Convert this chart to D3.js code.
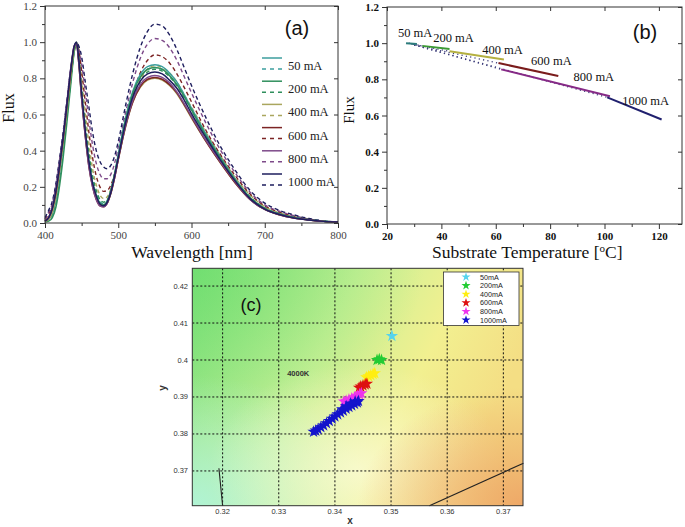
<!DOCTYPE html>
<html><head><meta charset="utf-8">
<script src="https://cdn.jsdelivr.net/npm/d3@7"></script>
<style>body{margin:0;background:#fff}svg{display:block}</style>
</head><body>
<svg id="chart" width="685" height="527"></svg>
<script>
// ---------- DATA ----------
const currents = ["50 mA","200 mA","400 mA","600 mA","800 mA","1000 mA"];
const currentsShort = ["50mA","200mA","400mA","600mA","800mA","1000mA"];
const specColors = ["#3c9e9e","#2f8f5c","#aaa65e","#7c2424","#7e4a8a","#1e1e5e"];

// (a) spectra
const wavelengths = [400,405,410,415,420,425,430,435,440,443,446,450,455,460,465,470,475,480,
  485,490,495,500,510,520,530,540,550,560,570,580,590,600,620,640,660,680,700,720,740,760,780,800];
const solid50 = [0.01,0.02,0.05,0.13,0.27,0.43,0.61,0.79,0.97,1.0,0.90,0.70,0.50,0.33,0.22,0.15,0.11,0.10,
  0.12,0.18,0.27,0.38,0.58,0.73,0.82,0.865,0.875,0.865,0.83,0.78,0.71,0.635,0.49,0.36,0.24,0.14,0.08,0.05,0.03,0.018,0.01,0.005];
const solid200 = [0.005,0.01,0.03,0.09,0.21,0.37,0.56,0.76,0.95,1.0,0.91,0.71,0.50,0.33,0.22,0.15,0.11,0.10,
  0.12,0.18,0.27,0.37,0.57,0.72,0.805,0.85,0.86,0.85,0.815,0.765,0.70,0.625,0.48,0.355,0.235,0.14,0.08,0.05,0.03,0.018,0.01,0.005];
const solid400 = [0.01,0.02,0.06,0.15,0.29,0.45,0.63,0.81,0.97,1.0,0.90,0.70,0.49,0.32,0.21,0.14,0.10,0.095,
  0.11,0.165,0.25,0.35,0.53,0.67,0.75,0.79,0.80,0.79,0.76,0.715,0.65,0.58,0.45,0.33,0.22,0.13,0.075,0.045,0.027,0.017,0.009,0.005];
const solid600 = [0.01,0.03,0.08,0.17,0.31,0.47,0.65,0.83,0.98,0.99,0.89,0.69,0.48,0.31,0.20,0.13,0.095,0.09,
  0.11,0.165,0.25,0.35,0.535,0.67,0.755,0.795,0.805,0.795,0.765,0.72,0.655,0.585,0.45,0.33,0.22,0.13,0.075,0.045,0.027,0.017,0.009,0.005];
const solid800 = [0.01,0.03,0.09,0.19,0.33,0.49,0.67,0.85,0.98,0.99,0.89,0.69,0.48,0.31,0.20,0.13,0.095,0.09,
  0.11,0.17,0.25,0.355,0.54,0.68,0.765,0.805,0.815,0.805,0.775,0.725,0.66,0.59,0.455,0.335,0.225,0.13,0.075,0.046,0.028,0.017,0.009,0.005];
const solid1000 = [0.01,0.03,0.08,0.18,0.32,0.48,0.66,0.84,0.98,1.0,0.91,0.72,0.51,0.34,0.22,0.15,0.105,0.095,
  0.115,0.17,0.26,0.36,0.555,0.70,0.785,0.825,0.835,0.825,0.79,0.745,0.68,0.605,0.47,0.345,0.23,0.135,0.077,0.047,0.028,0.017,0.009,0.005];
const dashed50 = [0.01,0.02,0.05,0.13,0.27,0.43,0.61,0.79,0.96,0.99,0.92,0.73,0.53,0.36,0.24,0.165,0.12,0.105,
  0.125,0.18,0.27,0.37,0.57,0.71,0.80,0.85,0.86,0.85,0.815,0.765,0.70,0.625,0.485,0.36,0.24,0.14,0.08,0.05,0.03,0.018,0.01,0.005];
const dashed200 = [0.01,0.02,0.05,0.12,0.25,0.41,0.59,0.78,0.95,0.99,0.93,0.76,0.56,0.39,0.26,0.18,0.13,0.115,
  0.13,0.18,0.26,0.36,0.55,0.69,0.78,0.835,0.85,0.84,0.81,0.76,0.695,0.625,0.485,0.36,0.24,0.145,0.085,0.052,0.032,0.019,0.01,0.005];
const dashed400 = [0.01,0.03,0.08,0.17,0.30,0.46,0.63,0.81,0.96,0.99,0.95,0.80,0.61,0.44,0.30,0.21,0.155,0.135,
  0.145,0.19,0.26,0.35,0.54,0.69,0.79,0.85,0.87,0.86,0.83,0.78,0.71,0.64,0.50,0.37,0.25,0.155,0.09,0.057,0.035,0.02,0.01,0.005];
const dashed600 = [0.02,0.05,0.10,0.19,0.33,0.48,0.65,0.83,0.96,0.99,0.96,0.84,0.67,0.50,0.36,0.26,0.20,0.175,
  0.18,0.21,0.27,0.36,0.55,0.71,0.83,0.90,0.93,0.92,0.885,0.825,0.75,0.67,0.51,0.375,0.26,0.16,0.095,0.06,0.038,0.021,0.01,0.005];
const dashed800 = [0.02,0.06,0.11,0.21,0.35,0.50,0.67,0.84,0.97,1.0,0.97,0.88,0.73,0.57,0.43,0.33,0.27,0.245,
  0.245,0.27,0.33,0.42,0.61,0.78,0.91,0.99,1.02,1.01,0.97,0.90,0.81,0.72,0.55,0.40,0.275,0.17,0.10,0.065,0.04,0.022,0.011,0.005];
const dashed1000 = [0.03,0.07,0.12,0.22,0.36,0.51,0.68,0.85,0.97,1.0,0.98,0.92,0.78,0.64,0.50,0.40,0.34,0.31,
  0.30,0.32,0.37,0.45,0.65,0.83,0.97,1.06,1.10,1.09,1.04,0.96,0.86,0.76,0.58,0.42,0.29,0.18,0.11,0.07,0.045,0.025,0.012,0.006];
const solidSeries = [solid50,solid200,solid400,solid600,solid800,solid1000];
const dashedSeries = [dashed50,dashed200,dashed400,dashed600,dashed800,dashed1000];
const aXTicks = [400,500,600,700,800];
const fluxTicks = [0.0,0.2,0.4,0.6,0.8,1.0,1.2];

// (b) flux vs substrate temperature
const bColors = ["#2c7c7c","#3c9a34","#b4b040","#7a1c1c","#862a86","#20206e"];
const steadyT = [[27,31],[33,43],[43,63],[61,83],[62,102],[101,121]];
const steadyFlux = [[1.0,0.995],[0.985,0.968],[0.955,0.91],[0.89,0.818],[0.855,0.706],[0.70,0.578]];
const transT = [[],[28,33],[29,43],[30,61],[30,62],[30,101]];
const transFlux = [[],[1.0,0.985],[0.995,0.955],[0.99,0.89],[0.99,0.855],[0.99,0.70]];
const bLabelT = [24,37,55,73,88.6,106.5];
const bLabelFlux = [1.058,1.03,0.963,0.903,0.814,0.681];
const bXTicks = [20,40,60,80,100,120];

// (c) chromaticity
const cColors = ["#55d4ee","#22cc33","#ffee11","#dd1111","#ee33ee","#1414cc"];
const pts50 = [[0.35015,0.4065]];
const pts200 = [[0.3475,0.4000],[0.3479,0.4002],[0.3483,0.4000]];
const pts400 = [[0.3456,0.3953],[0.3460,0.3956],[0.3464,0.3959],[0.3468,0.3962],[0.3471,0.3964]];
const pts600 = [[0.3443,0.3925],[0.3446,0.3928],[0.3450,0.3931],[0.3454,0.3934],[0.3457,0.3936]];
const pts800 = [[0.3416,0.3888],[0.3420,0.3890],[0.3425,0.3893],[0.3430,0.3896],[0.3435,0.3899],[0.3440,0.3903],[0.3444,0.3907],[0.3447,0.3910]];
const pts1000 = [[0.3362,0.3806],[0.3366,0.3809],[0.3370,0.3813],[0.3375,0.3818],[0.3380,0.3823],[0.3385,0.3829],
  [0.3390,0.3835],[0.3395,0.3841],[0.3400,0.3847],[0.3405,0.3853],[0.3410,0.3858],[0.3415,0.3863],[0.3420,0.3868],
  [0.3425,0.3873],[0.3430,0.3877],[0.3435,0.3881],[0.3440,0.3885],[0.3413,0.3867],[0.3420,0.3875],[0.3428,0.3882],[0.3436,0.3888],[0.3442,0.3889]];
const cPoints = [pts50,pts200,pts400,pts600,pts800,pts1000];
const isoLine1 = [[0.31934,0.37073],[0.3200,0.3606]];
const isoLine2 = [[0.35683,0.3606],[0.37358,0.37208]];
const cXTicks = [0.32,0.33,0.34,0.35,0.36,0.37];
const cYTicks = [0.37,0.38,0.39,0.40,0.41,0.42];
const cctLabel = {x:0.3315, y:0.3958, text:"4000K"};

// ---------- DRAW ----------
const svg = d3.select("#chart");
const SERIF = "'Liberation Serif','Times New Roman',serif";
const SANS = "'Liberation Sans',Arial,sans-serif";

function frame(x, y, xMajor, xMinor, yMajor, yMinor, fmtX, fmtY, labStyle){
  const g = svg.append("g");
  const [x0,x1] = x.range(), [yb,yt] = y.range();
  const strip = s => s.select(".domain").remove();
  g.append("g").attr("transform",`translate(0,${yb})`)
    .call(d3.axisBottom(x).tickValues(xMinor).tickSize(3).tickFormat("")).call(strip);
  const bx = g.append("g").attr("transform",`translate(0,${yb})`)
    .call(d3.axisBottom(x).tickValues(xMajor).tickSize(5).tickPadding(3).tickFormat(fmtX)).call(strip);
  g.append("g").attr("transform",`translate(${x0},0)`)
    .call(d3.axisLeft(y).tickValues(yMinor).tickSize(3).tickFormat("")).call(strip);
  const ly = g.append("g").attr("transform",`translate(${x0},0)`)
    .call(d3.axisLeft(y).tickValues(yMajor).tickSize(5).tickPadding(3).tickFormat(fmtY)).call(strip);
  g.append("g").attr("transform",`translate(0,${yt})`)
    .call(d3.axisTop(x).tickValues(xMajor).tickSize(-4).tickFormat("")).call(strip);
  g.append("g").attr("transform",`translate(${x1},0)`)
    .call(d3.axisRight(y).tickValues(yMajor).tickSize(-4).tickFormat("")).call(strip);
  g.selectAll(".tick line").attr("stroke","#333");
  [bx,ly].forEach(a=>a.selectAll("text").attr("font-family",SERIF).attr("font-size",labStyle.size)
     .attr("font-weight",labStyle.weight).attr("fill",labStyle.fill));
  g.append("rect").attr("x",x0).attr("y",yt).attr("width",x1-x0).attr("height",yb-yt)
    .attr("fill","none").attr("stroke","#333").attr("stroke-width",1);
  return g;
}

// ===== Panel (a) =====
const xA = d3.scaleLinear([400,800],[45,338]);
const yA = d3.scaleLinear([0,1.2],[223,6]);
const lineA = d3.line().x((d,i)=>xA(wavelengths[i])).y(d=>yA(d)).curve(d3.curveMonotoneX);
const gA = svg.append("g");
dashedSeries.forEach((s,i)=>{
  gA.append("path").attr("d",lineA(s)).attr("fill","none").attr("stroke",specColors[i])
    .attr("stroke-width",1.4).attr("stroke-dasharray","4,3");
});
solidSeries.forEach((s,i)=>{
  gA.append("path").attr("d",lineA(s)).attr("fill","none").attr("stroke",specColors[i])
    .attr("stroke-width",1.5);
});
frame(xA,yA,aXTicks,d3.range(450,800,100),fluxTicks,d3.range(0.1,1.2,0.2),d=>d,d3.format(".1f"),
  {size:11,weight:"normal",fill:"#444"});
// legend (a)
currents.forEach((c,i)=>{
  const ys = 58 + i*23.2;
  gA.append("line").attr("x1",262).attr("x2",282).attr("y1",ys).attr("y2",ys)
    .attr("stroke",specColors[i]).attr("stroke-width",1.5);
  gA.append("line").attr("x1",262).attr("x2",282).attr("y1",ys+11).attr("y2",ys+11)
    .attr("stroke",specColors[i]).attr("stroke-width",1.5).attr("stroke-dasharray","4,4");
  gA.append("text").attr("x",288).attr("y",ys+12).text(c)
    .attr("font-family",SERIF).attr("font-size",12.5).attr("fill","#222");
});
svg.append("text").attr("x",297).attr("y",35).attr("text-anchor","middle").text("(a)")
  .attr("font-family",SANS).attr("font-size",20).attr("fill","#111");
svg.append("text").attr("x",192).attr("y",258).attr("text-anchor","middle").text("Wavelength [nm]")
  .attr("font-family",SERIF).attr("font-size",17.5).attr("fill","#111");
svg.append("text").attr("transform","translate(14,108) rotate(-90)").attr("text-anchor","middle").text("Flux")
  .attr("font-family",SERIF).attr("font-size",16).attr("fill","#111");

// ===== Panel (b) =====
const xB = d3.scaleLinear([20,128.5],[387,682]);
const yB = d3.scaleLinear([0,1.2],[224,7]);
const gB = svg.append("g");
const lineB = d3.line().x(d=>xB(d[0])).y(d=>yB(d[1]));
transT.forEach((t,i)=>{
  if(!t.length) return;
  gB.append("path").attr("d",lineB(t.map((v,j)=>[v,transFlux[i][j]]))).attr("fill","none")
    .attr("stroke","#3a3a78").attr("stroke-width",1.3).attr("stroke-dasharray","1.2,3.2");
});
steadyT.forEach((t,i)=>{
  gB.append("path").attr("d",lineB(t.map((v,j)=>[v,steadyFlux[i][j]]))).attr("fill","none")
    .attr("stroke",bColors[i]).attr("stroke-width",2);
});
currents.forEach((c,i)=>{
  gB.append("text").attr("x",xB(bLabelT[i])).attr("y",yB(bLabelFlux[i])+4).text(c)
    .attr("font-family",SERIF).attr("font-size",12.5).attr("fill","#111");
});
frame(xB,yB,bXTicks,d3.range(30,129,20),fluxTicks,d3.range(0.1,1.2,0.2),d=>d,d3.format(".1f"),
  {size:11,weight:"bold",fill:"#111"});
svg.append("text").attr("x",645).attr("y",39).attr("text-anchor","middle").text("(b)")
  .attr("font-family",SANS).attr("font-size",20).attr("fill","#111");
svg.append("text").attr("transform","translate(354,110) rotate(-90)").attr("text-anchor","middle").text("Flux")
  .attr("font-family",SERIF).attr("font-size",15).attr("fill","#111");
const tt = svg.append("text").attr("x",432).attr("y",258).attr("font-family",SERIF).attr("font-size",17.5).attr("fill","#111");
tt.append("tspan").text("Substrate Temperature [");
tt.append("tspan").attr("dy",-6).attr("font-size",11).text("o");
tt.append("tspan").attr("dy",6).text("C]");

// ===== Panel (c) =====
const xC = d3.scaleLinear([0.3146,0.3735],[192.3,523]);
const yC = d3.scaleLinear([0.3606,0.4248],[505.7,268.3]);
const defs = svg.append("defs");
const lg = defs.append("linearGradient").attr("id","bgH").attr("x1",0).attr("y1",0).attr("x2",1).attr("y2",0.35);
[["0","#7ee07e"],["0.45","#c8f096"],["0.75","#f2f090"],["1","#f4de84"]].forEach(s=>lg.append("stop").attr("offset",s[0]).attr("stop-color",s[1]));
function radial(id,cx,cy,r,color,op){
  const rg = defs.append("radialGradient").attr("id",id).attr("cx",cx).attr("cy",cy).attr("r",r);
  rg.append("stop").attr("offset","0").attr("stop-color",color).attr("stop-opacity",op);
  rg.append("stop").attr("offset","1").attr("stop-color",color).attr("stop-opacity",0);
}
radial("rTL",0,0,0.7,"#66dd66",0.55);
radial("rBL",0,1,0.55,"#b0f4dc",0.9);
radial("rC",0.5,0.85,0.45,"#fbfcd8",0.8);
radial("rBR",1,1,0.5,"#eea566",0.95);
const gC = svg.append("g");
const [cx0,cx1] = xC.range(), [cyb,cyt] = yC.range();
["url(#bgH)","url(#rTL)","url(#rBL)","url(#rC)","url(#rBR)"].forEach(f=>{
  gC.append("rect").attr("x",cx0).attr("y",cyt).attr("width",cx1-cx0).attr("height",cyb-cyt).attr("fill",f);
});
cXTicks.forEach(v=>gC.append("line").attr("x1",xC(v)).attr("x2",xC(v)).attr("y1",cyt).attr("y2",cyb)
  .attr("stroke","#111").attr("stroke-width",1).attr("stroke-dasharray","2,2"));
cYTicks.forEach(v=>gC.append("line").attr("x1",cx0).attr("x2",cx1).attr("y1",yC(v)).attr("y2",yC(v))
  .attr("stroke","#111").attr("stroke-width",1).attr("stroke-dasharray","2,2"));
const lineC = d3.line().x(d=>xC(d[0])).y(d=>yC(d[1]));
[isoLine1,isoLine2].forEach(l=>gC.append("path").attr("d",lineC(l)).attr("stroke","#222").attr("stroke-width",1.1).attr("fill","none"));
gC.append("rect").attr("x",cx0).attr("y",cyt).attr("width",cx1-cx0).attr("height",cyb-cyt)
  .attr("fill","none").attr("stroke","#333").attr("stroke-width",1);
const star = d3.symbol().type(d3.symbolStar);
cPoints.forEach((pts,i)=>{
  pts.forEach(p=>gC.append("path").attr("d",star.size(48)()).attr("transform",`translate(${xC(p[0])},${yC(p[1])})`)
    .attr("fill",cColors[i]));
});
gC.append("text").attr("x",xC(cctLabel.x)).attr("y",yC(cctLabel.y)).text(cctLabel.text)
  .attr("font-family",SANS).attr("font-size",7.5).attr("font-weight","bold").attr("fill","#333");
cXTicks.forEach(v=>gC.append("text").attr("x",xC(v)).attr("y",514).attr("text-anchor","middle").text(d3.format(".2f")(v))
  .attr("font-family",SANS).attr("font-size",7.5).attr("fill","#333"));
cYTicks.forEach(v=>gC.append("text").attr("x",188).attr("y",yC(v)+2.5).attr("text-anchor","end").text(d3.format(".2~f")(v))
  .attr("font-family",SANS).attr("font-size",7.5).attr("fill","#333"));
gC.append("text").attr("x",350).attr("y",524).attr("text-anchor","middle").text("x")
  .attr("font-family",SANS).attr("font-size",10).attr("font-weight","bold").attr("fill","#333");
gC.append("text").attr("transform","translate(166,388) rotate(-90)").attr("text-anchor","middle").text("y")
  .attr("font-family",SANS).attr("font-size",10).attr("font-weight","bold").attr("fill","#333");
gC.append("text").attr("x",251).attr("y",311).attr("text-anchor","middle").text("(c)")
  .attr("font-family",SANS).attr("font-size",18).attr("fill","#111");
// legend (c)
gC.append("rect").attr("x",443.5).attr("y",272).attr("width",75.5).attr("height",53.5)
  .attr("fill","#fff").attr("stroke","#333").attr("stroke-width",0.8);
currentsShort.forEach((c,i)=>{
  const ly = 277 + i*8.6;
  gC.append("path").attr("d",star.size(26)()).attr("transform",`translate(466,${ly})`).attr("fill",cColors[i]);
  gC.append("text").attr("x",480).attr("y",ly+2.6).text(c).attr("font-family",SANS).attr("font-size",7.2).attr("fill","#222");
});
</script>
</body></html>
